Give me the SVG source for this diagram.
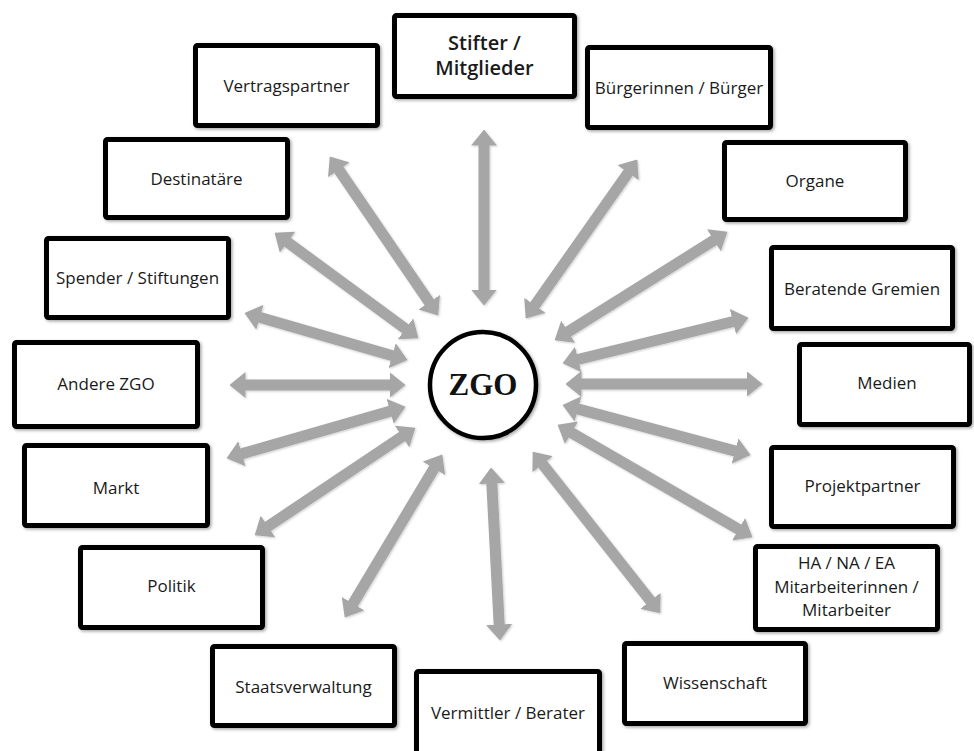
<svg xmlns="http://www.w3.org/2000/svg" width="974" height="751" viewBox="0 0 974 751">
<defs>
<style>
.box{fill:#fff;stroke:#000;stroke-width:5;filter:url(#sh)}
.lbl{font-family:"Open Sans","Noto Sans",sans-serif;font-size:17px;fill:#1a1a1a;text-anchor:middle}
.big{font-size:20px;font-weight:600}
.arr{stroke:#a6a6a6;stroke-width:11;fill:none;marker-start:url(#ah);marker-end:url(#ah)}
</style>
<filter id="sh" filterUnits="userSpaceOnUse" x="0" y="0" width="974" height="751"><feDropShadow dx="1.5" dy="1.5" stdDeviation="1.5" flood-color="#000" flood-opacity="0.35"/></filter>
<filter id="ash" filterUnits="userSpaceOnUse" x="0" y="0" width="974" height="751"><feDropShadow dx="1" dy="1" stdDeviation="1" flood-color="#000" flood-opacity="0.2"/></filter>
<marker id="ah" viewBox="0 0 16 26" markerUnits="userSpaceOnUse" markerWidth="16" markerHeight="26" refX="0.5" refY="13" orient="auto-start-reverse"><path d="M0,0 L16,13 L0,26 z" fill="#a6a6a6"/></marker>
</defs>
<rect width="974" height="751" fill="#fff"/>
<g id="connectors" filter="url(#ash)">
<line class="arr" x1="484" y1="145" x2="484" y2="290"/>
<line class="arr" x1="338.5" y1="169.4" x2="429.5" y2="302.6"/>
<line class="arr" x1="628.4" y1="172.3" x2="534.6" y2="305.7"/>
<line class="arr" x1="287.1" y1="241.9" x2="405.9" y2="329.1"/>
<line class="arr" x1="714.3" y1="240" x2="567.7" y2="332"/>
<line class="arr" x1="259.4" y1="317.2" x2="392.6" y2="355.8"/>
<line class="arr" x1="733.4" y1="321.5" x2="577.6" y2="359.5"/>
<line class="arr" x1="245" y1="385" x2="390" y2="385"/>
<line class="arr" x1="581" y1="384" x2="747" y2="384"/>
<line class="arr" x1="241.4" y1="453.9" x2="390.6" y2="411.1"/>
<line class="arr" x1="577.5" y1="408.9" x2="735.5" y2="451.1"/>
<line class="arr" x1="267.5" y1="526.7" x2="402.5" y2="436.3"/>
<line class="arr" x1="571" y1="432.5" x2="739" y2="529.5"/>
<line class="arr" x1="352.7" y1="604.1" x2="434.3" y2="467.9"/>
<line class="arr" x1="491.8" y1="483" x2="499.2" y2="625"/>
<line class="arr" x1="542.3" y1="463.8" x2="650.7" y2="601.2"/>
</g>
<g id="zgo">
<circle cx="483" cy="385" r="53" fill="#fff" stroke="#000" stroke-width="4.5" filter="url(#sh)"/>
<text x="483" y="395" font-family="'Liberation Serif',serif" font-weight="bold" font-size="31" text-anchor="middle" fill="#111">ZGO</text>
</g>
<g id="stifter"><rect class="box" x="394.5" y="15.5" width="180" height="81" rx="2"/><text class="lbl big" x="484.5" y="50">Stifter /</text><text class="lbl big" x="484.5" y="75">Mitglieder</text></g>
<g id="vertragspartner"><rect class="box" x="195.5" y="45.5" width="182" height="80" rx="2"/><text class="lbl" x="286.5" y="92">Vertragspartner</text></g>
<g id="buerger"><rect class="box" x="587.5" y="47.5" width="183" height="80" rx="2"/><text class="lbl" x="679" y="94">Bürgerinnen / Bürger</text></g>
<g id="organe"><rect class="box" x="724.5" y="142.5" width="181" height="77" rx="2"/><text class="lbl" x="815" y="187">Organe</text></g>
<g id="destinataere"><rect class="box" x="105.5" y="139.5" width="182" height="78" rx="2"/><text class="lbl" x="196.5" y="185">Destinatäre</text></g>
<g id="spender"><rect class="box" x="46.5" y="238.5" width="182" height="79" rx="2"/><text class="lbl" x="137.5" y="284">Spender / Stiftungen</text></g>
<g id="beratende"><rect class="box" x="771.5" y="247.5" width="181" height="81" rx="2"/><text class="lbl" x="862" y="295">Beratende Gremien</text></g>
<g id="andere"><rect class="box" x="14.5" y="342.5" width="183" height="84" rx="2"/><text class="lbl" x="106" y="390">Andere ZGO</text></g>
<g id="medien"><rect class="box" x="799.5" y="344.5" width="170" height="80" rx="2"/><text class="lbl" x="887" y="389">Medien</text></g>
<g id="markt"><rect class="box" x="24.5" y="445.5" width="183" height="80" rx="2"/><text class="lbl" x="116" y="494">Markt</text></g>
<g id="projektpartner"><rect class="box" x="771.5" y="447.5" width="182" height="79" rx="2"/><text class="lbl" x="862.5" y="492">Projektpartner</text></g>
<g id="mitarbeiter"><rect class="box" x="755.5" y="546.5" width="182" height="83" rx="2"/><text class="lbl" x="846.5" y="569">HA / NA / EA</text><text class="lbl" x="846.5" y="593">Mitarbeiterinnen /</text><text class="lbl" x="846.5" y="616">Mitarbeiter</text></g>
<g id="politik"><rect class="box" x="80.5" y="547.5" width="182" height="80" rx="2"/><text class="lbl" x="171.5" y="592">Politik</text></g>
<g id="staatsverwaltung"><rect class="box" x="212.5" y="646.5" width="182" height="79" rx="2"/><text class="lbl" x="303.5" y="693">Staatsverwaltung</text></g>
<g id="vermittler"><rect class="box" x="416.5" y="671.5" width="183" height="95" rx="2"/><text class="lbl" x="508" y="719">Vermittler / Berater</text></g>
<g id="wissenschaft"><rect class="box" x="624.5" y="643.5" width="181" height="80" rx="2"/><text class="lbl" x="715" y="689">Wissenschaft</text></g>
</svg>
